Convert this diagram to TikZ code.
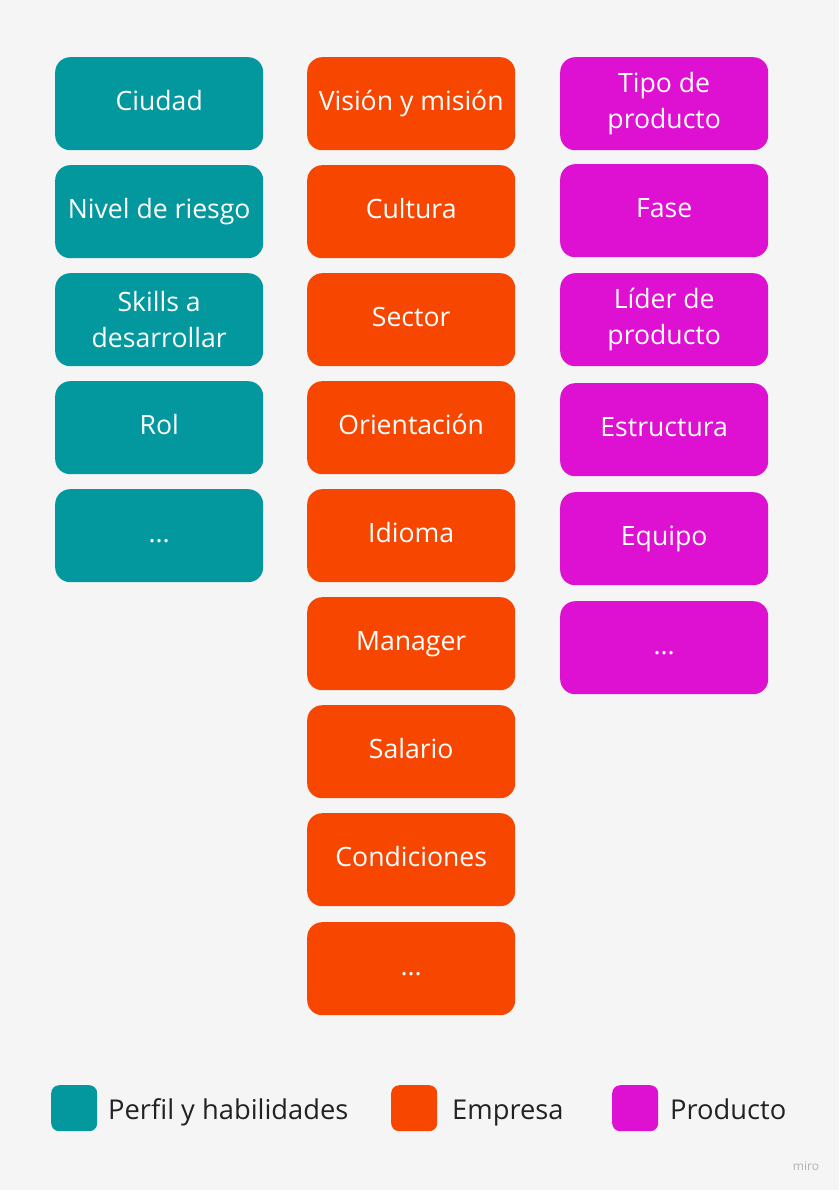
\documentclass[tikz,border=0pt]{standalone}
\usepackage{fontspec}
\setmainfont{Open Sans}
\definecolor{bgc}{RGB}{245,245,245}
\definecolor{teal1}{RGB}{3,152,158}
\definecolor{orange1}{RGB}{247,70,0}
\definecolor{mag1}{RGB}{222,16,210}
\definecolor{txt}{RGB}{34,34,34}
\begin{document}
\begin{tikzpicture}[x=1pt,y=-1pt,
  card/.style={rounded corners=15pt, minimum width=208pt, minimum height=93pt, inner sep=0pt,
    text=white, align=center, font=\fontsize{26.6}{36}\selectfont, anchor=north west},
  one/.style={text height=19pt, text depth=6pt},
  tealcard/.style={card, fill=teal1},
  orangecard/.style={card, fill=orange1},
  magcard/.style={card, fill=mag1},
  legsq/.style={rounded corners=8pt, minimum width=46pt, minimum height=46pt, inner sep=0pt, anchor=north west},
  legtext/.style={text=txt, font=\fontsize{27.3}{30}\selectfont, anchor=base west, inner sep=0pt}
]
\fill[bgc] (0,0) rectangle (839,1190);
\useasboundingbox (0,0) rectangle (839,1190);
% column 1
\node[tealcard, one] (c1a) at (55,57) {Ciudad};
\node[tealcard, one] (c1b) at (55,165) {Nivel de riesgo};
\node[tealcard] (c1c) at (55,273) {Skills a\\desarrollar};
\node[tealcard, one] (c1d) at (55,381) {Rol};
\node[tealcard, one] (c1e) at (55,489) {...};
% column 2
\node[orangecard, one] (c2a) at (307,57) {Visión y misión};
\node[orangecard, one] (c2b) at (307,165) {Cultura};
\node[orangecard, one] (c2c) at (307,273) {Sector};
\node[orangecard, one] (c2d) at (307,381) {Orientación};
\node[orangecard, one] (c2e) at (307,489) {Idioma};
\node[orangecard, one] (c2f) at (307,597) {Manager};
\node[orangecard, one] (c2g) at (307,705) {Salario};
\node[orangecard, one] (c2h) at (307,813) {Condiciones};
\node[orangecard, one] (c2i) at (307,922) {...};
% column 3
\node[magcard] (c3a) at (560,57) {Tipo de\\producto};
\node[magcard, one] (c3b) at (560,164) {Fase};
\node[magcard] (c3c) at (560,273) {Líder de\\producto};
\node[magcard, one] (c3d) at (560,383) {Estructura};
\node[magcard, one] (c3e) at (560,492) {Equipo};
\node[magcard, one] (c3f) at (560,601) {...};
% legend
\node[legsq, fill=teal1] (l1) at (51,1085) {};
\node[legtext] (t1) at (108,1119) {Perfil y habilidades};
\node[legsq, fill=orange1] (l2) at (391,1085) {};
\node[legtext] (t2) at (452,1119) {Empresa};
\node[legsq, fill=mag1] (l3) at (612,1085) {};
\node[legtext] (t3) at (670,1119) {Producto};
% watermark
\node[text=black!30, font=\fontsize{12}{14}\selectfont, inner sep=0pt] (wm) at (806,1166) {miro};
\end{tikzpicture}
\end{document}
